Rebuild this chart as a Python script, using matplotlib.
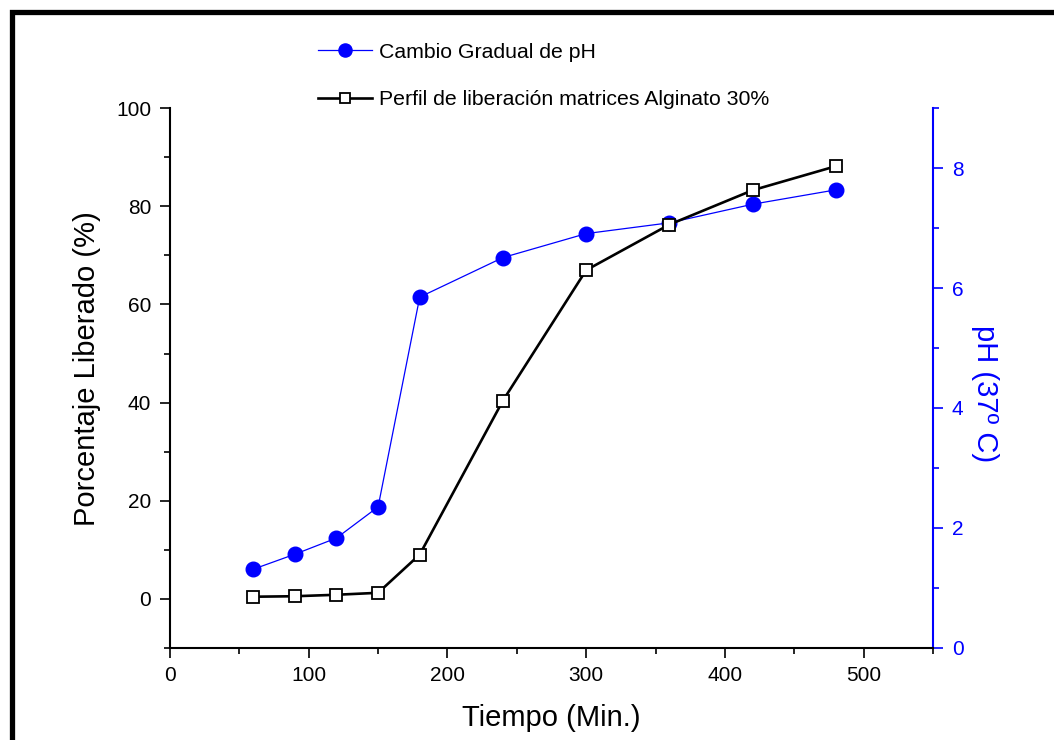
import matplotlib
matplotlib.use("Agg")
import matplotlib.pyplot as plt
from matplotlib.patches import Rectangle
from matplotlib.ticker import MultipleLocator

plt.rcParams['font.family'] = ['Liberation Sans', 'DejaVu Sans']

# data
tiempo = [60, 90, 120, 150, 180, 240, 300, 360, 420, 480]
liberado = [0.4, 0.5, 0.8, 1.2, 9.0, 40.4, 67.0, 76.3, 83.3, 88.2]
ph = [1.31, 1.56, 1.83, 2.35, 5.85, 6.51, 6.91, 7.09, 7.40, 7.64]

label_ph = 'Cambio Gradual de pH'
label_lib = 'Perfil de liberación matrices Alginato 30%'

fig = plt.figure(figsize=(10.54, 7.4), dpi=100)
ax = fig.add_axes([0.1613, 0.1247, 0.7239, 0.7289])
ax2 = ax.twinx()

l1, = ax2.plot(tiempo, ph, color='#0000ff', lw=0.9, marker='o', ms=10.5,
               markeredgecolor='#0000ff', label=label_ph)
l2, = ax.plot(tiempo, liberado, color='black', lw=1.9, marker='s', ms=8.5,
              markerfacecolor='white', markeredgecolor='black', mew=1.3,
              label=label_lib)
ax.set_zorder(ax2.get_zorder() + 1)
ax.patch.set_visible(False)

ax.set_xlim(0, 550)
ax.set_ylim(-10, 100)
ax2.set_ylim(0, 9)

ax.xaxis.set_major_locator(MultipleLocator(100))
ax.xaxis.set_minor_locator(MultipleLocator(50))
ax.yaxis.set_major_locator(MultipleLocator(20))
ax.yaxis.set_minor_locator(MultipleLocator(10))
ax2.yaxis.set_major_locator(MultipleLocator(2))
ax2.yaxis.set_minor_locator(MultipleLocator(1))

for a in (ax, ax2):
    a.spines['top'].set_visible(False)
    for s in a.spines.values():
        s.set_linewidth(1.5)
ax.spines['right'].set_visible(False)
ax2.spines['left'].set_visible(False)
ax2.spines['bottom'].set_visible(False)
ax2.spines['right'].set_color('#0000ff')

ax.tick_params(which='major', direction='out', length=7.5, width=1.2,
               labelsize=15, pad=6)
ax.tick_params(which='minor', direction='out', length=4, width=1.2)
ax2.tick_params(which='major', direction='out', length=7.5, width=1.2,
                labelsize=15, pad=6, color='#0000ff', labelcolor='#0000ff')
ax2.tick_params(which='minor', direction='out', length=4, width=1.2,
                color='#0000ff')

ax.set_xlabel('Tiempo (Min.)', fontsize=21, labelpad=13)
ax.set_ylabel('Porcentaje Liberado (%)', fontsize=21, labelpad=11)
ax.yaxis.label.set_y(0.517)
ax2.set_ylabel('pH (37º C)', fontsize=21, color='#0000ff', rotation=270,
               va='center')
ax2.yaxis.set_label_coords(1.068, 0.472)

fig.legend(handles=[l1, l2], loc='upper left', bbox_to_anchor=(0.284, 0.968),
           frameon=False, fontsize=15.3, labelspacing=1.35, handlelength=2.5,
           handletextpad=0.35, markerscale=0.9)

# black frame around the figure
fig.patches.append(Rectangle((12 / 1054, -0.1), 1.2, 1 - 11.5 / 740 + 0.1,
                             transform=fig.transFigure, fill=False,
                             edgecolor='black', lw=3.8))

fig.savefig('out.png', dpi=100)
